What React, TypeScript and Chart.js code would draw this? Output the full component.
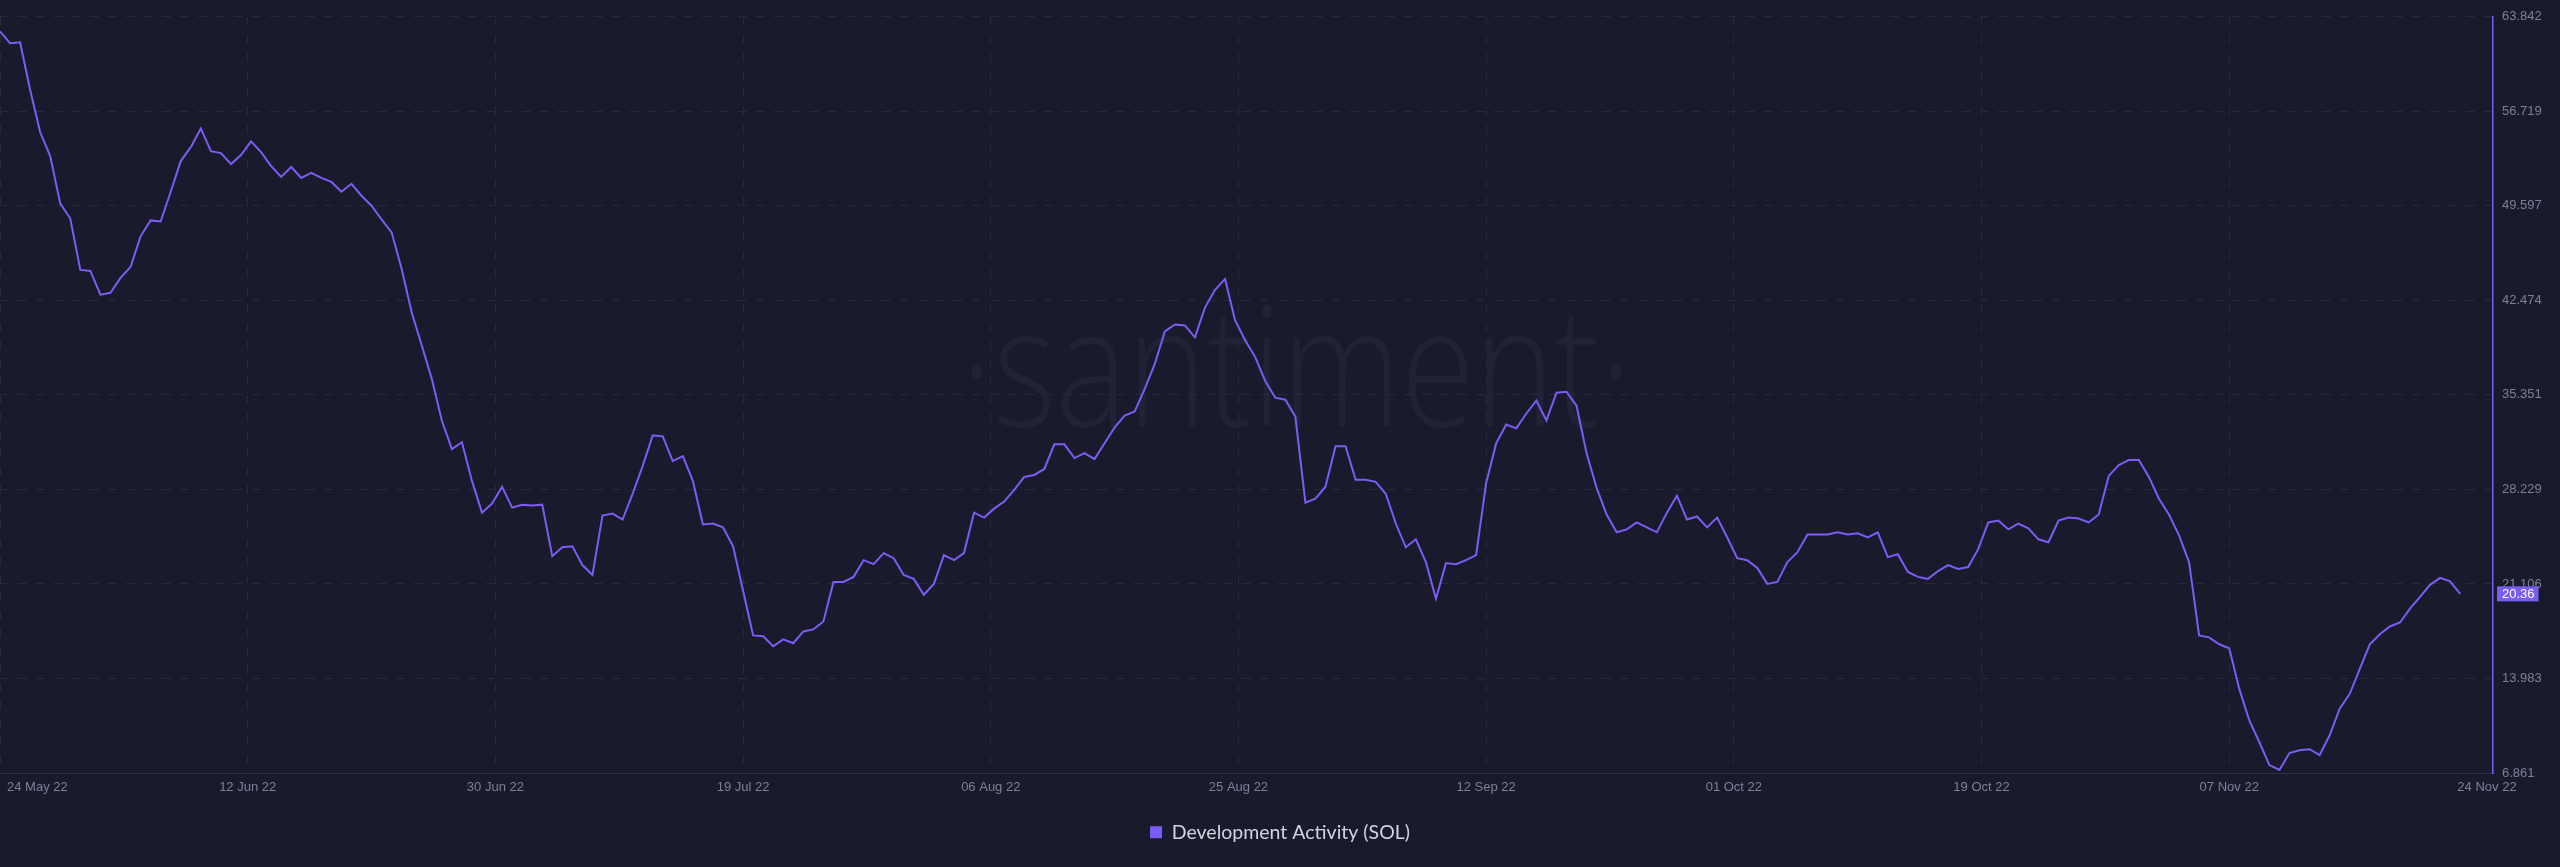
import { useEffect, useRef } from 'react';
import { Chart, registerables } from 'chart.js';

Chart.register(...registerables);

// ---------- data ----------
const SERIES_LABEL = 'Development Activity (SOL)';
const SAMPLE_STEP_DAYS = 0.75; // one reading every 18 hours, starting 24 May 22

const devActivity = [
  62.75, 61.85, 61.92, 58.34, 55.14, 53.35, 49.76, 48.64, 44.77, 44.69,
  42.90, 43.05, 44.17, 44.99, 47.30, 48.50, 48.42, 50.66, 52.97, 54.02,
  55.43, 53.72, 53.57, 52.75, 53.42, 54.46, 53.64, 52.60, 51.78, 52.52,
  51.70, 52.08, 51.70, 51.40, 50.66, 51.26, 50.36, 49.61, 48.57, 47.60,
  44.84, 41.56, 39.09, 36.56, 33.42, 31.26, 31.78, 28.87, 26.48, 27.16,
  28.43, 26.86, 27.08, 27.01, 27.08, 23.20, 23.87, 23.95, 22.53, 21.78,
  26.26, 26.41, 25.96, 27.90, 29.99, 32.30, 32.23, 30.36, 30.74, 28.87,
  25.59, 25.66, 25.37, 23.95, 20.59, 17.23, 17.16, 16.41, 16.93, 16.64,
  17.53, 17.68, 18.28, 21.26, 21.26, 21.64, 22.90, 22.60, 23.43, 23.05,
  21.78, 21.49, 20.29, 21.11, 23.28, 22.90, 23.43, 26.48, 26.11, 26.78,
  27.31, 28.20, 29.17, 29.32, 29.77, 31.63, 31.63, 30.59, 30.96, 30.51,
  31.71, 32.90, 33.80, 34.10, 35.81, 37.68, 40.14, 40.66, 40.59, 39.69,
  41.93, 43.27, 44.09, 40.96, 39.47, 38.20, 36.40, 35.14, 34.99, 33.72,
  27.23, 27.53, 28.43, 31.49, 31.49, 28.95, 28.95, 28.80, 27.90, 25.66,
  23.87, 24.47, 22.75, 19.99, 22.68, 22.60, 22.90, 23.28, 28.72, 31.71,
  33.12, 32.83, 33.95, 34.92, 33.42, 35.51, 35.59, 34.54, 30.96, 28.35,
  26.34, 25.00, 25.22, 25.74, 25.37, 25.00, 26.48, 27.75, 25.96, 26.19,
  25.37, 26.11, 24.62, 23.05, 22.90, 22.31, 21.11, 21.26, 22.75, 23.50,
  24.84, 24.84, 24.84, 25.00, 24.84, 24.92, 24.62, 25.00, 23.13, 23.35,
  22.01, 21.64, 21.49, 22.08, 22.53, 22.23, 22.38, 23.73, 25.74, 25.89,
  25.22, 25.66, 25.29, 24.47, 24.25, 25.89, 26.11, 26.04, 25.74, 26.34,
  29.25, 30.07, 30.44, 30.44, 29.17, 27.53, 26.34, 24.77, 22.75, 17.23,
  17.08, 16.56, 16.26, 13.20, 10.82, 9.18, 7.46, 7.09, 8.36, 8.58,
  8.65, 8.21, 9.70, 11.71, 12.83, 14.70, 16.56, 17.31, 17.90, 18.20,
  19.25, 20.14, 21.04, 21.56, 21.30, 20.36,
];

const xTickDays = [0, 18.5, 37, 55.5, 74, 92.5, 111, 129.5, 148, 166.5, 185.75];
const xTickLabels = [
  '24 May 22', '12 Jun 22', '30 Jun 22', '19 Jul 22', '06 Aug 22', '25 Aug 22',
  '12 Sep 22', '01 Oct 22', '19 Oct 22', '07 Nov 22', '24 Nov 22',
];
const X_MAX_DAYS = 186.2;

const yTickValues = [6.861, 13.983, 21.106, 28.229, 35.351, 42.474, 49.597, 56.719, 63.842];

// ---------- style ----------
const BG = '#191b2c';
const GRID = '#272a3d';
const AXIS = '#2d3047';
const LINE = '#7b5cf5';
const TICK = '#7c8098';
const WATERMARK = '#202336';
const TICK_FONT = '"Liberation Sans", Arial, sans-serif';
const LEGEND_FONT_SIZE = 19.5;

const backdropPlugin = {
  id: 'backdrop',
  beforeDraw(chart: any) {
    const { ctx, width, height, chartArea } = chart;
    ctx.save();
    ctx.fillStyle = BG;
    ctx.fillRect(0, 0, width, height);
    const text = '\u00B7santiment\u00B7';
    const fontSize = chartArea.height * 0.22;
    ctx.font = `300 ${fontSize}px "Open Sans", sans-serif`;
    const w = ctx.measureText(text).width;
    const target = chartArea.width * 0.269;
    const sx = target / w;
    ctx.translate(chartArea.left + chartArea.width * 0.52, chartArea.top + chartArea.height * 0.5417);
    ctx.scale(sx, 1);
    ctx.textAlign = 'center';
    ctx.textBaseline = 'alphabetic';
    ctx.fillStyle = WATERMARK;
    ctx.fillText(text, 0, 0);
    ctx.restore();
  },
};

const labelsPlugin = {
  id: 'xLabelsAndBadge',
  afterDraw(chart: any) {
    const { ctx, chartArea } = chart;
    const xs = chart.scales.x;
    const ys = chart.scales.y;
    ctx.save();
    ctx.font = `13px ${TICK_FONT}`;
    ctx.textBaseline = 'middle';
    ctx.fillStyle = TICK;
    xTickDays.forEach((d, k) => {
      const px = xs.getPixelForValue(d);
      ctx.textAlign = k === 0 ? 'left' : 'center';
      ctx.fillText(xTickLabels[k], k === 0 ? px + 7 : px, chartArea.bottom + 14);
    });
    const last = devActivity[devActivity.length - 1];
    const py = ys.getPixelForValue(last);
    const label = last.toFixed(2);
    const tw = ctx.measureText(label).width;
    ctx.fillStyle = LINE;
    ctx.fillRect(chartArea.right + 4, py - 7.5, tw + 9, 15);
    ctx.fillStyle = '#ffffff';
    ctx.textAlign = 'left';
    ctx.fillText(label, chartArea.right + 9, py + 0.5);
    ctx.restore();
  },
};

export default function App() {
  const ref = useRef<HTMLCanvasElement>(null);

  useEffect(() => {
    document.body.style.margin = '0';
    document.body.style.background = BG;
    const points = devActivity.map((v, i) => ({ x: i * SAMPLE_STEP_DAYS, y: v }));
    const lastTick = xTickDays.length - 1;
    const chart = new Chart(ref.current as HTMLCanvasElement, {
      type: 'line',
      data: {
        datasets: [
          {
            label: SERIES_LABEL,
            data: points,
            borderColor: LINE,
            backgroundColor: LINE,
            borderWidth: 2,
            pointRadius: 0,
            tension: 0,
            fill: false,
          },
        ],
      },
      options: {
        animation: false,
        responsive: true,
        maintainAspectRatio: false,
        layout: { padding: { top: 9.3, bottom: 15, left: 0, right: 0 } },
        plugins: {
          tooltip: { enabled: false },
          legend: {
            position: 'bottom',
            labels: {
              color: '#d2d4df',
              font: { family: 'Lato, "Open Sans", sans-serif', size: LEGEND_FONT_SIZE },
              boxWidth: 12,
              boxHeight: 12,
              padding: 10,
              generateLabels: (c: any) =>
                (Chart.defaults.plugins.legend.labels as any)
                  .generateLabels(c)
                  .map((l: any) => ({ ...l, lineWidth: 0 })),
            },
          },
        },
        scales: {
          x: {
            type: 'linear',
            min: 0,
            max: X_MAX_DAYS,
            afterBuildTicks: (s: any) => {
              s.ticks = xTickDays.map((v) => ({ value: v }));
            },
            afterFit: (s: any) => {
              s.height = 94 - 15 - (LEGEND_FONT_SIZE + 20);
            },
            ticks: { display: false },
            grid: {
              color: (c: any) => (c.index === lastTick ? 'rgba(0,0,0,0)' : GRID),
              drawTicks: false,
              lineWidth: 1,
            },
            border: { display: true, color: AXIS, width: 1, dash: [9, 9] },
          },
          y: {
            type: 'linear',
            position: 'right',
            min: yTickValues[0],
            max: yTickValues[yTickValues.length - 1],
            afterBuildTicks: (s: any) => {
              s.ticks = yTickValues.map((v) => ({ value: v }));
            },
            afterFit: (s: any) => {
              s.width = 67;
            },
            ticks: {
              color: TICK,
              font: { family: TICK_FONT, size: 13 },
              padding: 9,
              autoSkip: false,
              callback: (v: any) => Number(v).toFixed(3),
            },
            grid: { color: GRID, drawTicks: false, lineWidth: 1 },
            border: { display: true, color: LINE, width: 1.5, dash: [9, 9] },
          },
        },
      } as any,
      plugins: [backdropPlugin, labelsPlugin],
    });
    return () => chart.destroy();
  }, []);

  return (
    <div style={{ position: 'relative', width: '2560px', height: '867px', background: BG }}>
      <canvas ref={ref} />
    </div>
  );
}
